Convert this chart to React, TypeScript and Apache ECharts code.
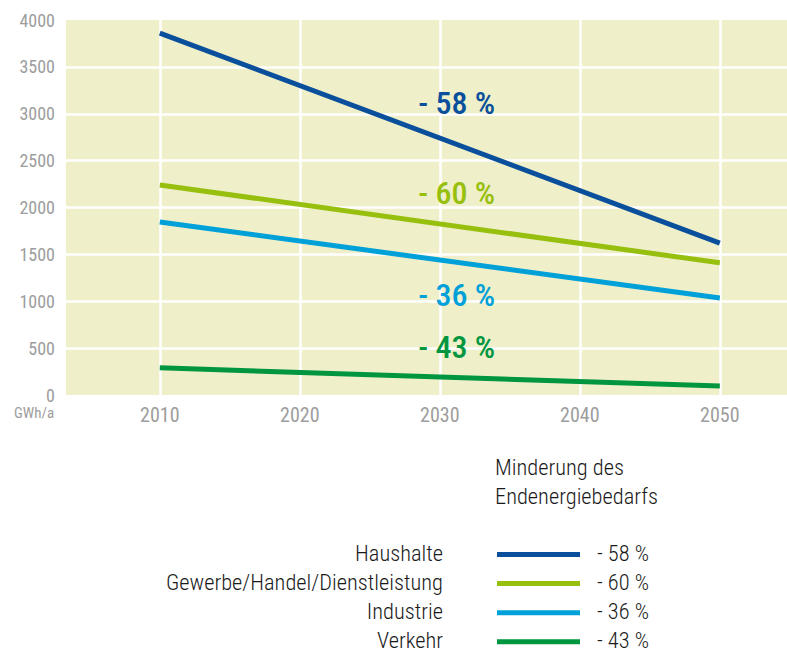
import React, { useEffect, useRef } from "react";
import * as echarts from "echarts";

const years = [2010, 2050];
const xTicks = [2010, 2020, 2030, 2040, 2050];
const yGridValues = [500, 1000, 1500, 2000, 2500, 3000, 3500];
const seriesNames = ["Haushalte", "Gewerbe/Handel/Dienstleistung", "Industrie", "Verkehr"];
const haushalte = [3860, 1620];
const gewerbe = [2240, 1410];
const industrie = [1845, 1035];
const verkehr = [290, 95];
const reductions = ["- 58 %", "- 60 %", "- 36 %", "- 43 %"];
const annotationX = 2031.2;
const annotationY = [3115, 2155, 1067, 512];
const colors = ["#0a4f9b", "#97bf0d", "#00a0d8", "#00963f"];
const legendTitle = ["Minderung des", "Endenergiebedarfs"];
const unitLabel = "GWh/a";

const FONT = "'Roboto Condensed', 'Liberation Sans Narrow', 'DejaVu Sans Condensed', Roboto, sans-serif";
const GRAY = "#9d9d9d";

export default function App() {
  const ref = useRef<HTMLDivElement>(null);
  useEffect(() => {
    document.body.style.margin = "0";
    const chart = echarts.init(ref.current!, null, { renderer: "svg" });
    const values = [haushalte, gewerbe, industrie, verkehr];
    const lineSeries = values.map((vals, i) => ({
      type: "line",
      name: seriesNames[i],
      data: years.map((y, j) => [y, vals[j]]),
      symbol: "none",
      z: 10,
      lineStyle: { color: colors[i], width: 5 },
      itemStyle: { color: colors[i] },
    }));
    const legendGraphics: any[] = [];
    seriesNames.forEach((name, i) => {
      const y = 553 + 29.1 * i;
      legendGraphics.push({
        type: "text",
        x: 443,
        y,
        style: { text: name, fill: "#1a1a1a", font: `300 22.4px ${FONT}`, align: "right", verticalAlign: "middle" },
      });
      legendGraphics.push({
        type: "line",
        shape: { x1: 497, y1: y + 1.5, x2: 580, y2: y + 1.5 },
        style: { stroke: colors[i], lineWidth: 5 },
      });
      legendGraphics.push({
        type: "text",
        x: 597,
        y,
        style: { text: reductions[i], fill: "#1a1a1a", font: `300 22.4px ${FONT}`, align: "left", verticalAlign: "middle" },
      });
    });
    legendTitle.forEach((t, i) => {
      legendGraphics.push({
        type: "text",
        x: 495,
        y: 467 + 29 * i,
        style: { text: t, fill: "#1a1a1a", font: `300 22.4px ${FONT}`, align: "left", verticalAlign: "middle" },
      });
    });
    legendGraphics.push({
      type: "text",
      x: 14,
      y: 413,
      style: { text: unitLabel, fill: GRAY, font: `15px ${FONT}`, align: "left", verticalAlign: "middle" },
    });

    chart.setOption({
      animation: false,
      grid: {
        left: 66,
        right: 0,
        top: 20,
        bottom: 257,
        show: true,
        backgroundColor: "#efefc9",
        borderWidth: 0,
      },
      xAxis: {
        type: "value",
        min: 2003.3,
        max: 2054.8,
        axisLine: { show: false },
        axisTick: { show: false, customValues: xTicks },
        splitLine: { show: false },
        axisLabel: {
          customValues: xTicks,
          color: GRAY,
          fontSize: 20,
          fontFamily: FONT,
          margin: 10,
          formatter: (v: number) => String(v),
        },
      },
      yAxis: {
        type: "value",
        min: 0,
        max: 4000,
        interval: 500,
        axisLine: { show: false },
        axisTick: { show: false },
        splitLine: { show: false },
        axisLabel: {
          color: GRAY,
          fontSize: 18,
          fontFamily: FONT,
          margin: 11,
          formatter: (v: number) => String(v),
        },
      },
      graphic: legendGraphics,
      series: [
        {
          type: "line",
          data: [],
          z: 1,
          silent: true,
          markLine: {
            z: 1,
            silent: true,
            symbol: ["none", "none"],
            label: { show: false },
            lineStyle: { color: "#ffffff", width: 2.5, type: "solid" },
            data: [
              ...yGridValues.map((v) => ({ yAxis: v })),
              ...xTicks.map((v) => ({ xAxis: v })),
            ],
          },
        },
        ...lineSeries,
        {
          type: "scatter",
          symbolSize: 0,
          z: 12,
          silent: true,
          itemStyle: { opacity: 1 },
          data: annotationY.map((y, i) => ({
            value: [annotationX, y],
            itemStyle: { opacity: 1, color: colors[i] },
            label: {
              show: true,
              position: "inside",
              formatter: reductions[i],
              color: colors[i],
              opacity: 1,
              fontSize: 32,
              fontWeight: 500,
              fontFamily: FONT,
              textBorderWidth: 0,
              textBorderColor: "transparent",
              textShadowBlur: 0,
            },
          })),
        },
      ],
    });
    return () => chart.dispose();
  }, []);
  return <div ref={ref} style={{ width: 787, height: 652 }} />;
}
